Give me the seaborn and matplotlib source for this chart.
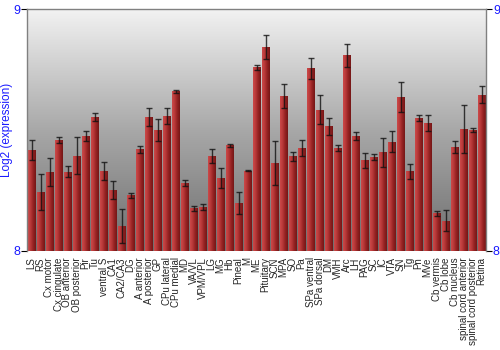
import numpy as np
import pandas as pd
import matplotlib
matplotlib.use("Agg")
import matplotlib.pyplot as plt
import seaborn as sns
from matplotlib.colors import LinearSegmentedColormap

regions = ["LS", "RS", "Cx motor", "Cx cingulate", "OB anterior", "OB posterior", "Pir", "Tu",
           "ventral S", "CA1", "CA2/CA3", "DG", "A anterior", "A posterior", "GP", "CPu lateral",
           "CPu medial", "MD", "VA/VL", "VPM/VPL", "LG", "MG", "Hb", "Pineal", "M", "ME",
           "Pituitary", "SCN", "MPA", "SO", "Pa", "SPa ventral", "SPa dorsal", "DM", "VMH", "Arc",
           "LH", "PAG", "SC", "IC", "VTA", "SN", "Tg", "Pn", "MVe", "Cb vermis", "Cb lobe",
           "Cb nucleus", "spinal cord anterior", "spinal cord posterior", "Retina"]
expression = [8.417, 8.245, 8.325, 8.459, 8.328, 8.394, 8.475, 8.554,
              8.329, 8.253, 8.103, 8.231, 8.421, 8.555, 8.501, 8.557,
              8.660, 8.281, 8.176, 8.182, 8.393, 8.303, 8.437, 8.198, 8.331, 8.759,
              8.843, 8.364, 8.642, 8.391, 8.426, 8.756, 8.583, 8.515, 8.426, 8.809,
              8.475, 8.375, 8.387, 8.409, 8.452, 8.636, 8.329, 8.551, 8.530, 8.156, 8.125,
              8.428, 8.504, 8.501, 8.645]
error = [0.040, 0.074, 0.058, 0.012, 0.022, 0.076, 0.020, 0.018,
         0.037, 0.037, 0.070, 0.010, 0.014, 0.037, 0.045, 0.033,
         0.007, 0.012, 0.011, 0.011, 0.030, 0.041, 0.007, 0.047, 0.002, 0.009,
         0.048, 0.092, 0.050, 0.019, 0.034, 0.043, 0.060, 0.035, 0.014, 0.047,
         0.018, 0.032, 0.012, 0.060, 0.043, 0.062, 0.031, 0.013, 0.032, 0.011, 0.044,
         0.025, 0.100, 0.008, 0.035]
y_ticks = [8, 9]
y_label = "Log2 (expression)"

df = pd.DataFrame({"region": regions, "expression": expression})

sns.set_style("white")
plt.rcParams["font.family"] = ["Liberation Sans", "DejaVu Sans"]

fig = plt.figure(figsize=(5, 3.5), dpi=100)
ax = fig.add_axes([0.054, 0.283, 0.918, 0.691])

# background vertical gradient: dark at the bottom, light at the top
bg = LinearSegmentedColormap.from_list("bg", ["#6e6e6e", "#a8a8a8", "#f2f2f2"])
grad = np.linspace(0, 1, 256).reshape(-1, 1)
ax.imshow(grad, cmap=bg, aspect="auto", extent=[-0.5, len(regions) - 0.5, 8, 9],
          origin="lower", zorder=0)

sns.barplot(data=df, x="region", y="expression", color="#b03030", width=0.85,
            errorbar=None, ax=ax, zorder=2, edgecolor="#8a6a6a", linewidth=0.5)

# horizontal gradient in each bar
barcm = LinearSegmentedColormap.from_list("bar", ["#cc4a4a", "#b83838", "#942222", "#741616"])
hgrad = np.linspace(0, 1, 64).reshape(1, -1)
for p in ax.patches:
    x0, w = p.get_x(), p.get_width()
    h = p.get_height()
    im = ax.imshow(hgrad, cmap=barcm, aspect="auto", extent=[x0, x0 + w, 8, h],
                   origin="lower", zorder=2.5)
    im.set_clip_path(p)

ax.errorbar(np.arange(len(regions)), expression, yerr=error, fmt="none",
            ecolor="#111111", elinewidth=1.0, capsize=2, capthick=1.0, alpha=0.8, zorder=4)

ax.set_xlim(-0.5, len(regions) - 0.5)
ax.set_ylim(8, 9)
ax.set_yticks(y_ticks)
ax.set_yticklabels([str(t) for t in y_ticks])
ax.tick_params(axis="y", left=True, right=True, labelleft=True, labelright=True,
               length=4, width=0.8, color="black", labelcolor="#1a1aff", labelsize=9, pad=1)
ax.tick_params(axis="x", bottom=False, labelsize=7, pad=1)
plt.setp(ax.get_xticklabels(), rotation=90)
ax.set_xlabel("")
ax.set_ylabel(y_label, color="#1a1aff", fontsize=8.5)
ax.yaxis.set_label_coords(-0.031, 0.5)
for s in ["top", "left", "right"]:
    ax.spines[s].set_color("#808080")
    ax.spines[s].set_linewidth(1)
    ax.spines[s].set_visible(True)
ax.spines["bottom"].set_visible(False)

fig.savefig("out.png", dpi=100)
